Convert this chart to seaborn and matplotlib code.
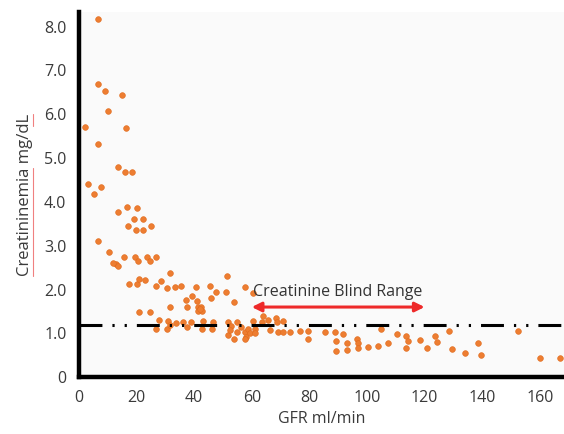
import matplotlib
matplotlib.use("Agg")
import matplotlib.pyplot as plt
import seaborn as sns
import pandas as pd
from matplotlib.lines import Line2D

# ---- data ----
gfr = [6.5, 2.2, 6.7, 9.0, 14.9, 10.2, 16.3, 6.5, 13.5, 15.9, 18.3, 3.2, 7.7, 5.2,
       13.4, 16.6, 20.2, 19.1, 22.3, 16.9, 19.8, 22.1, 24.9, 6.7, 10.4, 15.6, 19.3,
       23.5, 26.7, 12.8, 11.8, 13.4, 20.5, 24.7,
       17.3, 20.0, 20.9, 22.9, 26.6, 28.6, 31.6, 30.7, 33.4, 35.4, 40.6, 45.5, 47.5,
       51.3, 51.0, 57.7, 39.3, 37.3, 41.1, 45.8, 53.7, 31.6, 37.6, 41.3, 42.4, 41.3,
       42.7, 42.0, 20.8, 24.7, 27.9, 30.8, 26.7, 30.7, 31.6, 33.7, 36.2, 37.4, 39.0,
       42.6, 43.2, 46.4, 46.2, 51.8, 52.8, 55.0, 51.8, 53.7, 56.1, 57.6, 58.0, 58.8,
       60.5, 64.0, 60.5, 63.4, 65.7, 68.4, 68.6, 70.9, 61.1, 52.4, 54.8, 59.4, 66.3,
       69.2, 70.9, 73.3, 76.7, 79.6, 57.6, 61.1, 79.6, 85.4, 88.9, 91.8, 89.2, 93.0,
       96.4, 96.8, 89.2, 93.0, 97.0, 100.5, 103.9, 104.8, 107.4, 110.3, 113.5, 113.5,
       114.3, 118.4, 120.7, 123.6, 124.2, 128.6, 129.6, 134.0, 138.6, 139.6, 152.5,
       160.1, 167.0]
creat = [8.17, 5.71, 6.70, 6.53, 6.43, 6.07, 5.68, 5.32, 4.79, 4.69, 4.69, 4.41, 4.34, 4.18,
         3.77, 3.89, 3.87, 3.60, 3.60, 3.44, 3.36, 3.35, 3.44, 3.11, 2.85, 2.75, 2.75,
         2.75, 2.75, 2.58, 2.60, 2.53, 2.64, 2.64,
         2.12, 2.12, 2.23, 2.21, 2.08, 2.20, 2.37, 2.04, 2.05, 2.08, 2.05, 2.08, 1.95,
         2.31, 1.95, 2.05, 1.85, 1.76, 1.74, 1.80, 1.71, 1.61, 1.61, 1.60, 1.60, 1.51,
         1.51, 1.55, 1.49, 1.49, 1.30, 1.29, 1.10, 1.10, 1.19, 1.23, 1.26, 1.15, 1.26,
         1.10, 1.29, 1.26, 1.10, 1.26, 1.16, 1.25, 0.96, 0.87, 1.15, 1.03, 0.91, 1.11,
         1.91, 1.39, 1.29, 1.26, 1.30, 1.36, 1.26, 1.29, 1.09, 1.07, 1.03, 1.00, 1.07,
         1.03, 1.03, 1.03, 1.06, 1.06, 0.86, 1.00, 0.88, 1.03, 1.03, 0.98, 0.82, 0.77,
         0.88, 0.77, 0.60, 0.62, 0.66, 0.69, 0.72, 1.09, 0.77, 0.98, 0.94, 0.66,
         0.82, 0.84, 0.66, 0.94, 0.80, 1.06, 0.65, 0.55, 0.77, 0.50, 1.06,
         0.44, 0.44]

threshold_x = [0, 168]
threshold_y = [1.2, 1.2]
blind_range = [60, 120]
blind_y = 1.6
blind_label = "Creatinine Blind Range"

x_ticks = [0, 20, 40, 60, 80, 100, 120, 140, 160]
y_ticks = [0, 1, 2, 3, 4, 5, 6, 7, 8]
y_ticklabels = ["0", "1.0", "2.0", "3.0", "4.0", "5.0", "6.0", "7.0", "8.0"]
x_label = "GFR ml/min"
y_label = "Creatininemia mg/dL"

df = pd.DataFrame({"gfr": gfr, "creat": creat})

# ---- style ----
sns.set_style("white")
plt.rcParams["font.family"] = ["Open Sans", "DejaVu Sans"]
plt.rcParams["lines.scale_dashes"] = False

W, H = 564, 434
fig = plt.figure(figsize=(W / 100, H / 100), dpi=100)
ax = fig.add_axes([0.140, 0.131, 0.860, 0.841])
ax.set_facecolor("#fafafa")

sns.scatterplot(data=df, x="gfr", y="creat", ax=ax, color="#ED7D31",
                edgecolor="#E06A1B", linewidth=0.4, s=17, zorder=3)

sns.lineplot(x=threshold_x, y=threshold_y, ax=ax, color="black", linewidth=2.2,
             linestyle=(0, (16.5, 7.2, 1.6, 7.2, 1.6, 7.2)), zorder=4)

ax.annotate("", xy=(blind_range[0], blind_y), xytext=(blind_range[1], blind_y),
            arrowprops=dict(arrowstyle="<|-|>", color="#EE2A2A", lw=2.2,
                            mutation_scale=14, shrinkA=0, shrinkB=0), zorder=5)
ax.text(blind_range[0] + 0.5, blind_y + 0.15, blind_label, fontsize=11.5,
        color="#333333", ha="left", va="bottom", zorder=5)

ax.set_xlim(0, 168.4)
ax.set_ylim(0, 8.33)
ax.set_xticks(x_ticks)
ax.set_yticks(y_ticks)
ax.set_yticklabels(y_ticklabels)

for side in ["top", "right"]:
    ax.spines[side].set_visible(False)
for side in ["left", "bottom"]:
    ax.spines[side].set_color("black")
    ax.spines[side].set_linewidth(3.2)

ax.tick_params(axis="both", which="major", direction="out", length=5, width=1.2,
               color="#222222", labelsize=11.5, labelcolor="#3a3a3a", pad=4)
ax.tick_params(axis="x", pad=4)

ax.set_xlabel(x_label, fontsize=11.5, color="#3a3a3a", labelpad=4)
ax.set_ylabel(y_label, fontsize=12, color="#3a3a3a")
ax.yaxis.set_label_coords((33 - 79) / 485, 0.50)

# spell-check style underline seen in the reference label
fig.canvas.draw()
bb = ax.yaxis.label.get_window_extent()
y0, y1 = bb.y0, bb.y1
L = y1 - y0
xu = 33 / W
fig.add_artist(Line2D([xu, xu], [y0 / H, (y0 + 0.665 * L) / H],
                      color="#f08080", linewidth=0.8, transform=fig.transFigure))
fig.add_artist(Line2D([xu, xu], [(y1 - 0.075 * L) / H, y1 / H],
                      color="#f08080", linewidth=0.8, transform=fig.transFigure))

fig.savefig("out.png", dpi=100, facecolor="white")
